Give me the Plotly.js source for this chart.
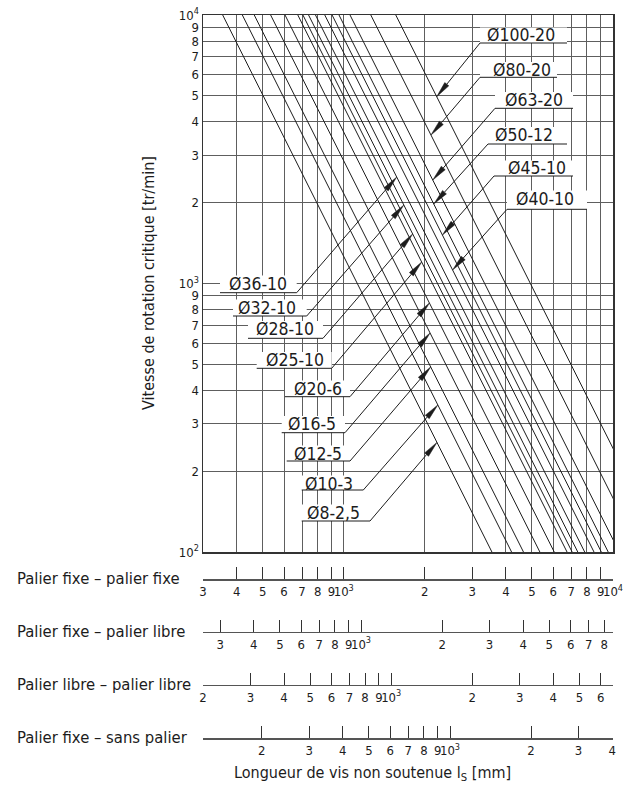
<!DOCTYPE html>
<html><head><meta charset="utf-8">
<script src="https://cdn.plot.ly/plotly-3.0.1.min.js"></script>
<style>html,body{margin:0;padding:0;background:#fff}#chart{width:631px;height:803px}</style>
</head><body><div id="chart"></div>
<script>
// ---------------- DATA ----------------
const screwLabels = ["Ø8-2,5","Ø10-3","Ø12-5","Ø16-5","Ø20-6","Ø25-10","Ø28-10","Ø32-10","Ø36-10","Ø40-10","Ø45-10","Ø50-12","Ø63-20","Ø80-20","Ø100-20"];
// unsupported length (mm, fixed-fixed) where each line meets 10^4 tr/min and 10^2 tr/min
const lenAtTopSpeed    = [355, 420, 465, 535, 605, 675, 705, 740, 785, 850, 905, 960, 1055, 1260, 1560];
const lenAtBottomSpeed = [3550, 4200, 4650, 5350, 6050, 6750, 7050, 7400, 7850, 8500, 9050, 9600, 10550, 12600, 15600];
const speedTop = 10000, speedBottom = 100;
// speed (tr/min) at which each label's arrow touches its line
const arrowSpeed = [256, 353, 489, 654, 846, 1202, 1529, 1960, 2491, 1123, 1515, 1977, 2428, 3573, 4963];

const speedTickVals = [100,200,300,400,500,600,700,800,900,1000,2000,3000,4000,5000,6000,7000,8000,9000,10000];
const speedTickText = ["10<sup>2</sup>","2","3","4","5","6","7","8","9","10<sup>3</sup>","2","3","4","5","6","7","8","9","10<sup>4</sup>"];
const lengthGridVals = [400,500,600,700,800,900,1000,2000,3000,4000,5000,6000,7000,8000,9000];

const scaleNames = ["Palier fixe – palier fixe","Palier fixe – palier libre","Palier libre – palier libre","Palier fixe – sans palier"];
const scaleMin = [300, 259, 200, 121];
const scaleMax = [10000, 8620, 6667, 4030];
const scaleTickVals = [
  [300,400,500,600,700,800,900,1000,2000,3000,4000,5000,6000,7000,8000,9000,10000],
  [300,400,500,600,700,800,900,1000,2000,3000,4000,5000,6000,7000,8000],
  [200,300,400,500,600,700,800,900,1000,2000,3000,4000,5000,6000],
  [200,300,400,500,600,700,800,900,1000,2000,3000,4000]
];
const scaleTickText = [
  ["3","4","5","6","7","8","9","10<sup>3</sup>","2","3","4","5","6","7","8","9","10<sup>4</sup>"],
  ["3","4","5","6","7","8","9","10<sup>3</sup>","2","3","4","5","6","7","8"],
  ["2","3","4","5","6","7","8","9","10<sup>3</sup>","2","3","4","5","6"],
  ["2","3","4","5","6","7","8","9","10<sup>3</sup>","2","3","4"]
];
const yTitle = "Vitesse de rotation critique [tr/min]";
const xTitle = "Longueur de vis non soutenue l<sub>S</sub> [mm]";

// ---------------- LAYOUT GEOMETRY (pixels) ----------------
const FIG_W = 631, FIG_H = 803;
const PL = 203, PR = 613, PT = 15, PB = 552;
const PAPER_H = FIG_H - PT;
const FONT = "DejaVu Sans Condensed, Liberation Sans, Arial, sans-serif";
const INK = "#1c1c1c";
// label boxes: [centerX, centerY, underlineY, underlineX0, underlineX1, leaderFrom('L' or 'R')]
const labelBoxes = [
  [333.5, 512.5, 521, 301.7, 370, 'R'],
  [329, 483.5, 490, 301.7, 363.3, 'R'],
  [317.5, 453.5, 461, 286.7, 350, 'R'],
  [312, 424, 432.7, 281.7, 345, 'R'],
  [317.5, 388.5, 396.7, 285, 350, 'R'],
  [295, 360, 368.3, 256.7, 331.7, 'R'],
  [285, 329, 338.3, 248, 323, 'R'],
  [266.5, 307.5, 316, 233, 306.7, 'R'],
  [257.5, 283.5, 292.7, 220, 296.7, 'R'],
  [545, 198.5, 209.3, 507, 587, 'L'],
  [536.5, 168.5, 176, 494, 573, 'L'],
  [524, 135, 144, 488, 567, 'L'],
  [534, 100, 108.3, 495, 573, 'L'],
  [522, 70, 77.3, 480, 557, 'L'],
  [521, 35.5, 43, 480, 567, 'L']
];
const scaleLinePx = [579.3, 631.7, 685, 738.3];
const scaleTextPx = [578, 631, 684, 737];

// helpers
const LX0 = Math.log10(300), LX1 = 4;
function pxFromLen(L){ return PL + (Math.log10(L) - LX0) / (LX1 - LX0) * (PR - PL); }
function pyFromSpeed(n){ return PT + (4 - Math.log10(n)) / 2 * (PB - PT); }
function paperX(px){ return (px - PL) / (PR - PL); }
function paperY(py){ return (FIG_H - py) / PAPER_H; }

// ---------------- TRACES ----------------
const traces = [];
screwLabels.forEach((lab, i) => {
  traces.push({
    type: 'scatter', mode: 'lines', name: lab,
    x: [lenAtTopSpeed[i], lenAtBottomSpeed[i]],
    y: [speedTop, speedBottom],
    line: {color: INK, width: 1}, hoverinfo: 'skip', showlegend: false
  });
});
for (let k = 0; k < 4; k++) {
  traces.push({type:'scatter', x:[], y:[], xaxis: 'x' + (k + 2), yaxis: 'y', showlegend:false, hoverinfo:'skip'});
}

// ---------------- SHAPES & ANNOTATIONS ----------------
const shapes = [], annotations = [];
const whiteBoxes = [], lines = [], heads = [];
screwLabels.forEach((lab, i) => {
  const [cx, cy, uy, ux0, ux1, side] = labelBoxes[i];
  const a = Math.log10(lenAtTopSpeed[i]), b = Math.log10(lenAtBottomSpeed[i]);
  const t = (Math.log10(speedTop) - Math.log10(arrowSpeed[i])) / (Math.log10(speedTop) - Math.log10(speedBottom));
  const tipL = Math.pow(10, a + t * (b - a));
  const tx = pxFromLen(tipL), ty = pyFromSpeed(arrowSpeed[i]);
  const sx = side === 'R' ? ux1 : ux0, sy = uy;
  whiteBoxes.push({type:'rect', xref:'paper', yref:'paper', layer:'above',
    x0: paperX(ux0), x1: paperX(ux1), y0: paperY(uy), y1: paperY(cy - 8),
    fillcolor:'#ffffff', line:{width:0}});
  lines.push({type:'line', xref:'paper', yref:'paper', layer:'above',
    x0: paperX(ux0), x1: paperX(ux1), y0: paperY(uy), y1: paperY(uy),
    line:{color: INK, width: 1}});
  const d = Math.hypot(tx - sx, ty - sy), ux = (tx - sx) / d, uyv = (ty - sy) / d;
  const hl = 16, hw = 2.6;
  const bx = tx - hl * ux, by = ty - hl * uyv;
  lines.push({type:'line', xref:'paper', yref:'paper', layer:'above',
    x0: paperX(sx), y0: paperY(sy), x1: paperX(bx), y1: paperY(by),
    line:{color: INK, width: 1}});
  const p1x = bx - hw * uyv, p1y = by + hw * ux, p2x = bx + hw * uyv, p2y = by - hw * ux;
  heads.push({type:'path', xref:'paper', yref:'paper', layer:'above',
    path: `M${paperX(tx)},${paperY(ty)} L${paperX(p1x)},${paperY(p1y)} L${paperX(p2x)},${paperY(p2y)} Z`,
    fillcolor: INK, line:{color: INK, width: 0.5}});
  annotations.push({xref:'paper', yref:'paper', x: paperX(cx), y: paperY(cy), text: lab,
    showarrow:false, xanchor:'center', yanchor:'middle', font:{family: FONT, size: 17.5, color: INK}});
});
shapes.push(...whiteBoxes, ...lines, ...heads);

scaleNames.forEach((nm, k) => {
  annotations.push({xref:'paper', yref:'paper', x: paperX(15), y: paperY(scaleTextPx[k]), text: nm,
    showarrow:false, xanchor:'left', yanchor:'middle', font:{family: FONT, size: 16.5, color: INK}});
});
annotations.push({xref:'paper', yref:'paper', x: paperX(148), y: paperY(283), text: yTitle, textangle: -90,
  showarrow:false, xanchor:'center', yanchor:'middle', font:{family: FONT, size: 16, color: INK}});
annotations.push({xref:'paper', yref:'paper', x: paperX(372), y: paperY(773), text: xTitle,
  showarrow:false, xanchor:'center', yanchor:'middle', font:{family: FONT, size: 16, color: INK}});

// ---------------- LAYOUT ----------------
const layout = {
  width: FIG_W, height: FIG_H,
  margin: {l: PL, r: FIG_W - PR, t: PT, b: 0},
  paper_bgcolor: '#fff', plot_bgcolor: '#fff',
  showlegend: false,
  xaxis: {type:'log', range:[LX0, LX1], tickvals: lengthGridVals, showticklabels:false, ticks:'',
    showgrid:true, gridcolor:'#5e5e5e', gridwidth:1, zeroline:false,
    showline:true, mirror:true, linecolor:'#333', linewidth:1.5, anchor:'y'},
  yaxis: {type:'log', range:[2, 4], domain:[paperY(PB), 1], tickvals: speedTickVals, ticktext: speedTickText,
    ticks:'', showgrid:true, gridcolor:'#5e5e5e', gridwidth:1, zeroline:false,
    showline:true, mirror:true, linecolor:'#333', linewidth:1.5,
    tickfont:{family: FONT, size: 13, color: INK}},
  shapes, annotations
};
for (let k = 0; k < 4; k++) {
  layout['xaxis' + (k + 2)] = {
    type:'log', range:[Math.log10(scaleMin[k]), Math.log10(scaleMax[k])],
    overlaying:'x', anchor:'free', position: paperY(scaleLinePx[k]), side:'bottom',
    tickvals: scaleTickVals[k], ticktext: scaleTickText[k], tickangle: 0,
    ticks:'inside', ticklen: 12, tickwidth: 1, tickcolor:'#333',
    showline:true, linecolor:'#555', linewidth:1.2, showgrid:false, zeroline:false,
    tickfont:{family: FONT, size: 13, color: INK}
  };
}

Plotly.newPlot('chart', traces, layout, {staticPlot:true, displayModeBar:false});
</script></body></html>
